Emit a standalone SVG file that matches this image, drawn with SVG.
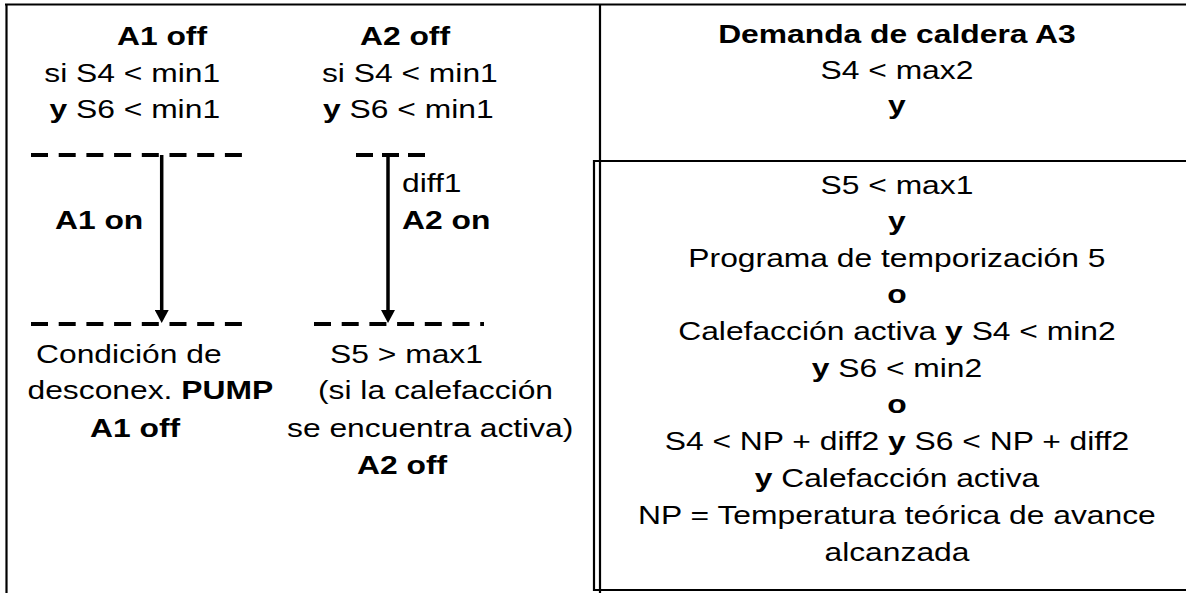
<svg xmlns="http://www.w3.org/2000/svg" width="1186" height="593" viewBox="0 0 1186 593">
<style>
  text { font-family: "Liberation Sans", Arial, sans-serif; font-size: 25.6px; fill: #000; }
  .b { font-weight: bold; }
  .c { text-anchor: middle; }
  .frame { fill: none; stroke: #000; stroke-width: 2.2; }
  .dash { stroke: #000; stroke-width: 4; stroke-dasharray: 17 10.7; fill: none; }
  .arrow { stroke: #000; stroke-width: 3.5; fill: none; }
</style>
<defs>
  <marker id="ah" markerUnits="userSpaceOnUse" markerWidth="14" markerHeight="14" refX="0" refY="7" orient="auto">
    <path d="M0,0 L13,7 L0,14 z" fill="#000"/>
  </marker>
</defs>
<rect width="1186" height="593" fill="#fff"/>

<g id="frame">
  <line class="frame" x1="5" y1="4.5" x2="1186" y2="4.5" stroke-width="2.6"/>
  <line class="frame" x1="6.5" y1="4" x2="6.5" y2="593" stroke-width="2.6"/>
  <line class="frame" x1="600" y1="4" x2="600" y2="593"/>
  <polyline class="frame" points="1186,161 594,161 594,590 1186,590"/>
</g>

<g id="thresholds">
  <line class="dash" x1="31" y1="155" x2="243" y2="155"/>
  <line class="dash" x1="31" y1="324" x2="243" y2="324"/>
  <line class="dash" x1="356" y1="155" x2="426" y2="155" style="stroke-dasharray:17 9"/>
  <line class="dash" x1="314" y1="324" x2="484" y2="324"/>
</g>

<g id="connectors">
  <line class="arrow" x1="161.7" y1="155" x2="161.7" y2="310" marker-end="url(#ah)"/>
  <line class="arrow" x1="388" y1="155" x2="388" y2="310" marker-end="url(#ah)"/>
</g>

<g id="node-a1-off" transform="scale(1.243 1)">
  <text class="b" x="94.1" y="45">A1 off</text>
  <text x="35.6" y="82">si S4 &lt; min1</text>
  <text x="39.8" y="118"><tspan class="b">y</tspan> S6 &lt; min1</text>
</g>

<g id="node-a2-off" transform="scale(1.243 1)">
  <text class="b" x="289.6" y="45">A2 off</text>
  <text x="259" y="82">si S4 &lt; min1</text>
  <text x="259.9" y="118"><tspan class="b">y</tspan> S6 &lt; min1</text>
</g>

<g id="node-a1-on" transform="scale(1.243 1)">
  <text class="b" x="44.2" y="229">A1 on</text>
</g>

<g id="node-a2-on" transform="scale(1.243 1)">
  <text x="323.4" y="192">diff1</text>
  <text class="b" x="323.4" y="229">A2 on</text>
</g>

<g id="node-a1-cond" transform="scale(1.243 1)">
  <text x="29" y="363">Condición de</text>
  <text x="22.1" y="399">desconex. <tspan class="b">PUMP</tspan></text>
  <text class="b" x="72.4" y="437">A1 off</text>
</g>

<g id="node-a2-cond" transform="scale(1.243 1)">
  <text x="265.5" y="363">S5 &gt; max1</text>
  <text x="255.8" y="399">(si la calefacción</text>
  <text x="230.9" y="437">se encuentra activa)</text>
  <text class="b" x="287.2" y="474">A2 off</text>
</g>

<g id="node-a3-demand" transform="scale(1.243 1)">
  <text class="b c" x="721.6" y="43.3">Demanda de caldera A3</text>
  <text class="c" x="721.6" y="79">S4 &lt; max2</text>
  <text class="b c" x="721.6" y="114">y</text>
</g>

<g id="node-a3-conditions" transform="scale(1.243 1)">
  <text class="c" x="721.6" y="194">S5 &lt; max1</text>
  <text class="b c" x="721.6" y="230">y</text>
  <text class="c" x="721.6" y="267">Programa de temporización 5</text>
  <text class="b c" x="721.6" y="303">o</text>
  <text class="c" x="721.6" y="340">Calefacción activa <tspan class="b">y</tspan> S4 &lt; min2</text>
  <text class="c" x="721.6" y="377"><tspan class="b">y</tspan> S6 &lt; min2</text>
  <text class="b c" x="721.6" y="413">o</text>
  <text class="c" x="721.6" y="450">S4 &lt; NP + diff2 <tspan class="b">y</tspan> S6 &lt; NP + diff2</text>
  <text class="c" x="721.6" y="487"><tspan class="b">y</tspan> Calefacción activa</text>
  <text class="c" x="721.6" y="524">NP = Temperatura teórica de avance</text>
  <text class="c" x="721.6" y="561">alcanzada</text>
</g>
</svg>
